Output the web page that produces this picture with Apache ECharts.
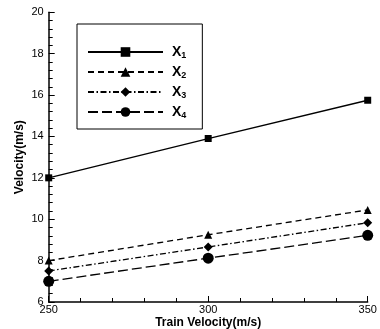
<!DOCTYPE html>
<html><head><meta charset="utf-8">
<script src="https://cdn.jsdelivr.net/npm/echarts@6/dist/echarts.min.js"></script>
<style>html,body{margin:0;padding:0;background:#fff}#c{width:380px;height:329px}</style>
</head><body><div id="c"></div>
<script>
const trainVelocity = [250, 300, 350];
const seriesNames = ['X1', 'X2', 'X3', 'X4'];
const x1 = [12.0, 13.9, 15.75];
const x2 = [8.0, 9.25, 10.45];
const x3 = [7.5, 8.66, 9.83];
const x4 = [7.0, 8.12, 9.22];
const yTicks = {min: 6, max: 20, interval: 2};
const xTicks = {min: 250, max: 350, interval: 50};

const values = [x1, x2, x3, x4];
const symbols = ['rect', 'triangle', 'diamond', 'circle'];
const symbolSizes = [7, 8, 9, 11];
const dashes = ['solid', [6, 4], [6, 2.5, 1.5, 2.5], [10, 4]];
const font = 'Liberation Sans, Arial, sans-serif';

const chart = echarts.init(document.getElementById('c'), null, {renderer: 'canvas'});
chart.setOption({
  animation: false,
  backgroundColor: '#fff',
  grid: {left: 48.7, right: 12.3, top: 12.3, bottom: 27, containLabel: false, outerBoundsMode: 'none'},
  legend: {
    orient: 'vertical', left: 77, top: 24,
    padding: [21, 16, 9, 10], itemGap: 5, itemWidth: 75, itemHeight: 12,
    borderColor: '#000', borderWidth: 1, backgroundColor: '#fff',
    data: seriesNames,
    formatter: function (n) { return '{x|' + n.charAt(0) + '}{s|' + n.slice(1) + '}'; },
    textStyle: {
      padding: [0, 0, 0, 4],
      rich: {
        x: {fontFamily: font, fontWeight: 'bold', fontSize: 14, lineHeight: 16, color: '#000'},
        s: {fontFamily: font, fontWeight: 'bold', fontSize: 9, lineHeight: 7, verticalAlign: 'bottom', color: '#000'}
      }
    }
  },
  xAxis: {
    type: 'value', min: xTicks.min, max: xTicks.max, interval: xTicks.interval,
    name: 'Train Velocity(m/s)', nameLocation: 'middle', nameGap: 15, nameMoveOverlap: false,
    nameTextStyle: {fontFamily: font, fontWeight: 'bold', fontSize: 12, color: '#000'},
    axisLine: {lineStyle: {color: '#000', width: 1.5}},
    axisTick: {inside: true, length: 6, lineStyle: {color: '#000', width: 1}},
    minorTick: {show: true, splitNumber: 5, length: 4, lineStyle: {color: '#000', width: 1}},
    axisLabel: {fontFamily: font, fontSize: 11, color: '#000', margin: 2},
    splitLine: {show: false}
  },
  yAxis: {
    type: 'value', min: yTicks.min, max: yTicks.max, interval: yTicks.interval,
    name: 'Velocity(m/s)', nameLocation: 'middle', nameGap: 23, nameMoveOverlap: false,
    nameTextStyle: {fontFamily: font, fontWeight: 'bold', fontSize: 12, color: '#000'},
    axisLine: {show: true, lineStyle: {color: '#000', width: 1.5}},
    axisTick: {show: true, inside: true, length: 6, lineStyle: {color: '#000', width: 1}},
    minorTick: {show: true, splitNumber: 5, length: 4, lineStyle: {color: '#000', width: 1}},
    axisLabel: {fontFamily: font, fontSize: 11, color: '#000', margin: 5},
    splitLine: {show: false}
  },
  series: seriesNames.map(function (n, i) {
    return {
      name: n, type: 'line',
      data: trainVelocity.map(function (t, j) { return [t, values[i][j]]; }),
      symbol: symbols[i], symbolSize: symbolSizes[i], showAllSymbol: true,
      itemStyle: {color: '#000'},
      lineStyle: {color: '#000', width: 1.3, type: dashes[i]},
      clip: false, z: 3
    };
  })
});
</script></body></html>
